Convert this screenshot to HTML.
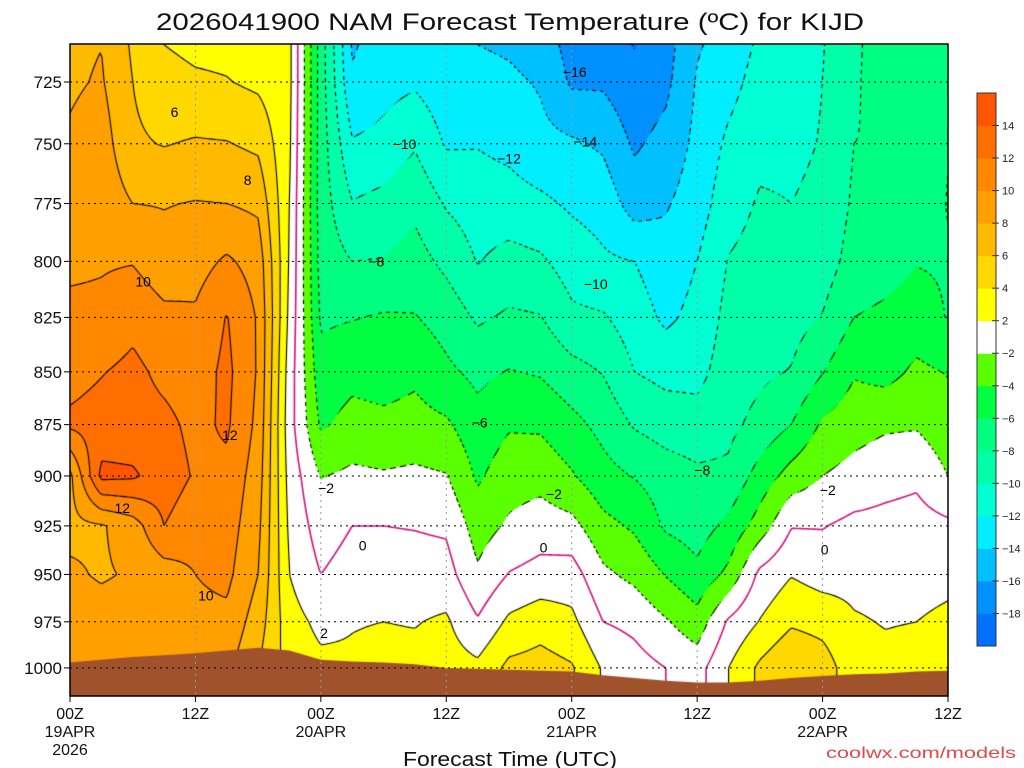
<!DOCTYPE html>
<html><head><meta charset="utf-8">
<style>
html,body{margin:0;padding:0;background:#fff;width:1024px;height:768px;overflow:hidden}
#wrap{position:relative;width:1024px;height:768px}
#field{position:absolute;left:70px;top:44px}
#ov{position:absolute;left:0;top:0}
text{font-family:"Liberation Sans",sans-serif}
</style></head>
<body>
<div id="wrap">
<canvas id="field" width="878" height="652"></canvas>
<svg id="ov" width="1024" height="768"></svg>
</div>
<script>
// pressure levels (hPa), top to bottom
const levels = [700,725,750,775,800,825,850,875,900,925,950,975,1000];
// forecast hours
const hours = [0,3,6,9,12,15,18,21,24,27,30,33,36,39,42,45,48,51,54,57,60,63,66,69,72,75,78,81,84];
// temperature profiles (°C) per forecast hour, ordered as levels
const f00=[7.5,7.7,8.3,9,9.6,10.5,11.3,12.4,7.5,7.5,8.3,9,9.5];
const f03=[7.8,8.2,9,9.3,9.8,10.5,11.9,12.8,14.5,7.8,7.8,8.8,9.3];
const f06=[5.5,6,6.3,8,9.9,11.4,12.5,12.8,14.3,9,8.2,9,9.5];
const f09=[3.5,4.7,5.9,7.9,8.8,10.5,11.5,12.5,13,12,9,9.5,9.8];
const f12=[3,4.3,6.2,8.1,9.2,10.3,11,11.5,11.8,10.8,10,9.5,9];
const f15=[3,4.1,6.1,8,10.3,12.1,12.5,12.3,11.5,11,10.5,9.5,8.5];
const f18=[2.5,3.6,5.6,7.6,9.2,9.8,9.8,9.5,9,8.5,8,7,6];
const f21=[2.5,2.5,2.3,2,1.8,1.5,1,0.8,1.2,1.6,2,2.8,3.2];
const f24=[-7,-7,-7,-7,-6.8,-6.3,-5.3,-4.3,-2.1,-1,0,1.5,2.5];
const f27=[-14.5,-13.8,-11.8,-9.9,-8,-6.1,-4.6,-3.3,-1.6,0,0.9,1.9,2.3];
const f30=[-13.5,-12.7,-11.4,-9.4,-7.9,-5.8,-4.9,-3.5,-1.8,0,1,2,2.6];
const f33=[-13.5,-12.3,-10.2,-8.5,-7.2,-5.9,-4.4,-3.3,-1.6,-0.1,0.9,1.9,2.6];
const f36=[-14.3,-13.3,-12.2,-10.2,-8.5,-6.8,-5.6,-3.7,-1.9,-0.3,0.8,2.3,3];
const f39=[-14.5,-13.3,-12.1,-11,-10.1,-8.3,-6.5,-5.3,-4.3,-2.9,-1.7,0.2,2.5];
const f42=[-14.8,-13.6,-12.5,-11.2,-9.3,-7.7,-5.9,-4.2,-2.9,-1.7,0.1,2.4,4.5];
const f45=[-15.5,-14.2,-13.4,-11.6,-9.7,-7.9,-6.2,-4.3,-2.7,-1,0.7,3.2,4.8];
const f48=[-17,-16.3,-13.7,-12.3,-10.9,-9.6,-7.3,-5.4,-3.8,-1.4,0.9,2.5,4.2];
const f51=[-17.5,-16.3,-14.3,-12.8,-11.7,-9.8,-8.1,-6.6,-5.3,-3.4,-1.6,0,1.8];
const f54=[-18.5,-17.5,-16.3,-14.9,-12,-11,-10,-8.2,-6.1,-4.3,-2.5,-0.5,0.8];
const f57=[-17,-16.5,-15.3,-14.2,-13.2,-12.4,-10.6,-8.9,-7,-6.3,-4.1,-1.8,0];
const f60=[-14.5,-13.8,-13.5,-13,-12,-11.4,-10.6,-9.2,-7.6,-6.9,-5.5,-3.2,-0.8];
const f63=[-13.5,-12.7,-11.6,-10.8,-9.9,-9.4,-9,-8.5,-7.6,-5.5,-3.5,0.3,2];
const f66=[-12,-11.2,-10.5,-9.8,-9.3,-8.9,-8.4,-7.4,-5.2,-3.1,0.5,2.1,4.4];
const f69=[-11,-10.7,-10.4,-10,-9.3,-8.8,-7.9,-6,-3.2,-0.1,1.9,3.7,6];
const f72=[-10.2,-10,-9.9,-9.6,-9,-7.9,-6.1,-3.7,-2,-0.1,1.2,3.3,5];
const f75=[-8.3,-8.2,-8,-7.7,-7.2,-6,-4.2,-2.8,-1.3,0.5,1.4,2.2,2.8];
const f78=[-7.3,-7.3,-7.9,-7.4,-6.8,-5.6,-4.7,-2.3,-0.7,0.6,1.3,1.9,2.5];
const f81=[-7,-7,-7.7,-7.2,-6.1,-5.1,-3.6,-2.2,-0.4,0.8,1.3,2,2.7];
const f84=[-6.5,-6.3,-6.1,-5.9,-6.2,-6.1,-4.1,-3.2,-2,0.4,1.5,2.4,3.5];
const temps=[f00,f03,f06,f09,f12,f15,f18,f21,f24,f27,f30,f33,f36,f39,f42,f45,f48,f51,f54,f57,f60,f63,f66,f69,f72,f75,f78,f81,f84];
// surface pressure (hPa) per forecast hour
const sfc=[997,995.5,994,993,992,990.5,989,990.5,995.5,996.5,997,998,1000,1000.5,1001,1001.5,1002,1004,1005.5,1007,1008,1008,1007,1005.5,1004.5,1003.5,1003,1002,1001.5];
// axis tick labels
const yTicks=[725,750,775,800,825,850,875,900,925,950,975,1000];
const xTickHours=[0,12,24,36,48,60,72,84];
const xTickLab=["00Z","12Z","00Z","12Z","00Z","12Z","00Z","12Z"];
const xTickDate=["19APR","","20APR","","21APR","","22APR",""];
// colour bins
const edges=[-18,-16,-14,-12,-10,-8,-6,-4,-2,2,4,6,8,10,12,14];
const colors=['#0070ff','#0090ff','#00c0ff','#00eeff','#00ffd2','#00ffa8','#00ff80','#00ff40','#5aff00','#ffffff','#ffff00','#ffd800','#ffba00','#ffa000','#ff8800','#ff6e00','#ff5400'];
const cbLabels=[14,12,10,8,6,4,2,-2,-4,-6,-8,-10,-12,-14,-16,-18];
// contour labels [value, hour, pressure]
const clabVal=[6,8,10,12,12,10,-2,0,2,-10,-8,-12,-16,-14,-10,-6,-2,0,-8,-2,0];
const clabHr=[10,17,7,15.3,5,13,24.5,28,24.3,32,29.3,42,48.3,49.3,50.3,39.2,46.3,45.3,60.5,72.5,72.2];
const clabP=[737,765,809,880,916,961,906,935,981,750,800,756,721,749,810,874,909,936,897,907,937];

const X0=70,X1=948,Y0=44,Y1=696;
function xOf(h){return X0+(h/84)*(X1-X0);}
function yOf(p){return 82+1822*(Math.log(p)-Math.log(725));}

const W=878,H=652;
const levY=levels.map(yOf);
function field(px,py){
  let fx=(px-X0)/((X1-X0)/(hours.length-1));
  let i=Math.floor(fx); if(i<0)i=0; if(i>hours.length-2)i=hours.length-2;
  let tx=fx-i; if(tx<0)tx=0; if(tx>1)tx=1;
  let k=0; while(k<levY.length-2&&py>levY[k+1])k++;
  let ty=(py-levY[k])/(levY[k+1]-levY[k]); if(ty<0)ty=0; if(ty>1)ty=1;
  const a=temps[i][k],b=temps[i+1][k],c=temps[i][k+1],d=temps[i+1][k+1];
  return (a*(1-tx)+b*tx)*(1-ty)+(c*(1-tx)+d*tx)*ty;
}
const cv=document.getElementById('field');
const ctx=cv.getContext('2d');
const img=ctx.createImageData(W,H);
function hex(c){return [parseInt(c.substr(1,2),16),parseInt(c.substr(3,2),16),parseInt(c.substr(5,2),16)];}
const rgb=colors.map(hex);
for(let y=0;y<H;y++){for(let x=0;x<W;x++){
  const t=field(X0+x+0.5,Y0+y+0.5);
  let k=0;while(k<edges.length&&t>=edges[k])k++;
  const o=(y*W+x)*4;img.data[o]=rgb[k][0];img.data[o+1]=rgb[k][1];img.data[o+2]=rgb[k][2];img.data[o+3]=255;
}}
ctx.putImageData(img,0,0);

// contours (marching squares)
const S=2,nx=Math.floor(W/S)+1,ny=Math.floor(H/S)+1;
const G=new Float32Array(nx*ny);
for(let j=0;j<ny;j++)for(let i=0;i<nx;i++)G[j*nx+i]=field(X0+i*S,Y0+j*S);
const cLevels=[-18,-16,-14,-12,-10,-8,-6,-4,-2,0,2,4,6,8,10,12,14];
for(const L of cLevels){
  ctx.beginPath();
  ctx.strokeStyle=L===0?'#d0107a':'#000';
  ctx.lineWidth=L===0?1.6:1.1;
  for(let j=0;j<ny-1;j++)for(let i=0;i<nx-1;i++){
    if(L<0&&((i+j)%4)>=2)continue;
    const a=G[j*nx+i],b=G[j*nx+i+1],c=G[(j+1)*nx+i+1],d=G[(j+1)*nx+i];
    const mn=Math.min(a,b,c,d),mx=Math.max(a,b,c,d);
    if(L<mn||L>mx)continue;
    const x=i*S,y=j*S,pts=[];
    if((a<L)!==(b<L))pts.push([x+S*(L-a)/(b-a),y]);
    if((b<L)!==(c<L))pts.push([x+S,y+S*(L-b)/(c-b)]);
    if((d<L)!==(c<L))pts.push([x+S*(L-d)/(c-d),y+S]);
    if((a<L)!==(d<L))pts.push([x,y+S*(L-a)/(d-a)]);
    if(pts.length>=2){ctx.moveTo(pts[0][0],pts[0][1]);ctx.lineTo(pts[1][0],pts[1][1]);}
    if(pts.length===4){ctx.moveTo(pts[2][0],pts[2][1]);ctx.lineTo(pts[3][0],pts[3][1]);}
  }
  ctx.stroke();
}
// ground
ctx.beginPath();
ctx.moveTo(0,H);
hours.forEach((h,i)=>ctx.lineTo(xOf(h)-X0,yOf(sfc[i])-Y0));
ctx.lineTo(W,H);ctx.closePath();
ctx.fillStyle='#a0522d';ctx.fill();

// overlay SVG
const NS='http://www.w3.org/2000/svg';
const svg=document.getElementById('ov');
function mk(tag,attrs,txt){const e=document.createElementNS(NS,tag);for(const k in attrs)e.setAttribute(k,attrs[k]);if(txt!==undefined)e.textContent=txt;svg.appendChild(e);return e;}
yTicks.forEach(p=>{
  const g=mk('line',{x1:X0,x2:X1,y1:yOf(p),y2:yOf(p),stroke:'#000','stroke-width':1,'stroke-dasharray':'2,4'});
  
  
  const tk=mk('line',{x1:X0-6,x2:X0,y1:yOf(p),y2:yOf(p),stroke:'#000','stroke-width':1});
  
  
  const t=mk('text',{x:X0-8,y:yOf(p)+6,'text-anchor':'end','font-size':17,fill:'#111'},String(p));
  
  
});
xTickHours.forEach((h,i)=>{
  const x=xOf(h);
  if(i>0&&i<xTickHours.length-1){
    const g=mk('line',{x1:x,x2:x,y1:Y0,y2:Y1,stroke:'#999','stroke-width':1,'stroke-dasharray':'2,4'});
    
    
  }
  const tk=mk('line',{x1:x,x2:x,y1:Y1,y2:Y1+6,stroke:'#000','stroke-width':1});
  
  
  const t=mk('text',{x:x,y:719,'text-anchor':'middle','font-size':16,fill:'#111'},xTickLab[i]);
  
  
  if(xTickDate[i]){
    const d=mk('text',{x:x,y:737,'text-anchor':'middle','font-size':16,fill:'#111'},xTickDate[i]);
    
    
  }
});
const yr=mk('text',{x:xOf(0),y:755,'text-anchor':'middle','font-size':16,fill:'#111'},'2026');


clabVal.forEach((v,i)=>{
  const t=mk('text',{x:xOf(clabHr[i]),y:yOf(clabP[i])+5,'text-anchor':'middle','font-size':14,fill:'#000'},v<0?'\u2212'+Math.abs(v):String(v));
  
  
});
const fr=mk('rect',{x:X0,y:Y0,width:X1-X0,height:Y1-Y0,fill:'none',stroke:'#000','stroke-width':1.5});


// colorbar: 17 equal bins, top = warmest
const cbX=977,cbW=19,cbTop=93,cbBot=646;
const cbStep=(cbBot-cbTop)/colors.length;
for(let k=0;k<colors.length;k++){
  const top=cbTop+(colors.length-1-k)*cbStep;
  const r=mk('rect',{x:cbX,y:top,width:cbW,height:cbStep+0.5,fill:colors[k]});
  
  
}
const cbf=mk('rect',{x:cbX,y:cbTop,width:cbW,height:cbBot-cbTop,fill:'none',stroke:'#333','stroke-width':1});


cbLabels.forEach((v,n)=>{
  const yy=cbTop+(n+1)*cbStep;
  const tk=mk('line',{x1:cbX+cbW-4,x2:cbX+cbW+3,y1:yy,y2:yy,stroke:'#333','stroke-width':1});
  
  
  const t=mk('text',{x:1002,y:yy+4,'font-size':11,fill:'#222'},v<0?'\u2212'+Math.abs(v):String(v));
  
  
});
</script>
<svg width="1024" height="768" style="position:absolute;left:0;top:0;pointer-events:none">
<text x="510" y="30" text-anchor="middle" font-size="24" textLength="708" lengthAdjust="spacingAndGlyphs" fill="#111">2026041900 NAM Forecast Temperature (ºC) for KIJD</text>
<text x="510" y="766" text-anchor="middle" font-size="20" textLength="214" lengthAdjust="spacingAndGlyphs" fill="#111">Forecast Time (UTC)</text>
<text x="1016" y="758" text-anchor="end" font-size="16" textLength="190" lengthAdjust="spacingAndGlyphs" fill="#e0484a">coolwx.com/models</text>
</svg>
</body></html>
